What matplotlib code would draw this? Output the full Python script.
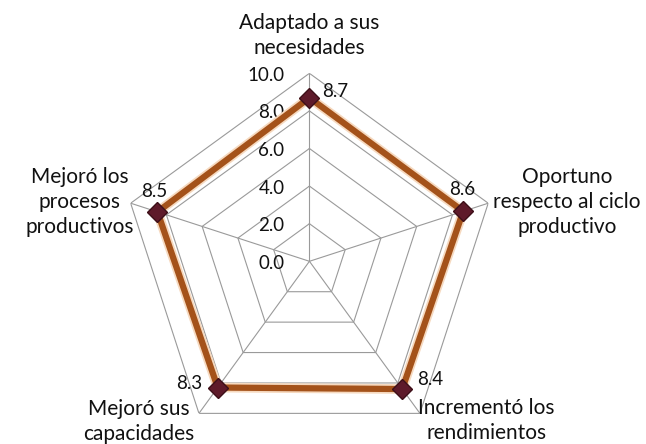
import numpy as np
import matplotlib.pyplot as plt
import matplotlib.patheffects as pe

# -----------------------------
# DATOS
# -----------------------------
categorias = ["Adaptado a sus\nnecesidades",
              "Oportuno\nrespecto al ciclo\nproductivo",
              "Incrementó los\nrendimientos",
              "Mejoró sus\ncapacidades",
              "Mejoró los\nprocesos\nproductivos"]
valores = [8.7, 8.6, 8.4, 8.3, 8.5]
niveles = [0.0, 2.0, 4.0, 6.0, 8.0, 10.0]

plt.rcParams['font.family'] = ['Lato', 'DejaVu Sans']
fs = 13.5      # numeros
fs_cat = 15    # categorias

n = len(categorias)
angulos = np.pi / 2 - np.arange(n) * 2 * np.pi / n
ang_cerr = np.append(angulos, angulos[0])

fig = plt.figure(figsize=(6.46, 4.44), dpi=100)
ax = fig.add_axes([0.188, -0.012, 0.582, 0.847], polar=True)
ax.set_ylim(0, 10)
ax.grid(False)
ax.spines['polar'].set_visible(False)
ax.set_xticks([])
ax.set_yticks([])
ax.patch.set_alpha(0)

# rejilla pentagonal
for r in niveles[1:]:
    ax.plot(ang_cerr, [r] * (n + 1), color='#9a9a9a', lw=0.8, zorder=1)
for a in angulos:
    ax.plot([a, a], [0, 10], color='#9a9a9a', lw=0.8, zorder=1)

# etiquetas del eje
for r in niveles:
    ax.annotate(f"{r:.1f}", xy=(np.pi / 2, r), xytext=(-25, -2),
                textcoords='offset pixels', ha='right', va='center',
                fontsize=fs, color='#111111')

# serie
vals_cerr = valores + [valores[0]]
ax.plot(ang_cerr, vals_cerr, color='#a4521a', lw=4.5, zorder=3,
        path_effects=[pe.Stroke(linewidth=7, foreground='#f6d9bf'), pe.Normal()])
ax.plot(angulos, valores, linestyle='none', marker='D', markersize=10,
        color='#5e1a2a', markeredgecolor='#3d0f18', zorder=4)

# etiquetas de datos
offsets = [(13, 6), (-1, 22), (15, 10), (-15, 4), (-3, 20)]
alineacion = [('left', 'center'), ('center', 'center'), ('left', 'center'),
              ('right', 'center'), ('center', 'center')]
for a, v, off, (ha, va) in zip(angulos, valores, offsets, alineacion):
    ax.annotate(f"{v:.1f}", xy=(a, v), xytext=off, textcoords='offset pixels',
                ha=ha, va=va, fontsize=fs, color='#111111')

# etiquetas de categorias
pos_cat = [((0, 38), 'center', 'center'),
           ((5, 1), 'left', 'center'),
           ((-2, -7), 'left', 'center'),
           ((-5, -8), 'right', 'center'),
           ((3, 1), 'right', 'center')]
for a, cat, (off, ha, va) in zip(angulos, categorias, pos_cat):
    ax.annotate(cat, xy=(a, 10), xytext=off, textcoords='offset pixels',
                ha=ha, va=va, multialignment='center', fontsize=fs_cat,
                linespacing=1.3, color='#111111', annotation_clip=False)

fig.savefig("out.png", dpi=100)
